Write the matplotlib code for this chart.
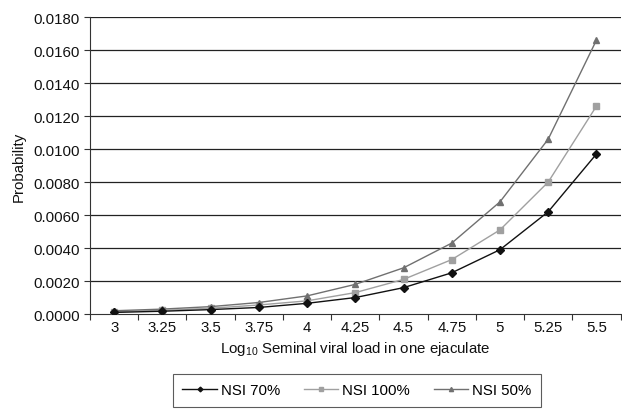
import matplotlib
matplotlib.use("Agg")
import matplotlib.pyplot as plt
import numpy as np

categories = ["3", "3.25", "3.5", "3.75", "4", "4.25", "4.5", "4.75", "5", "5.25", "5.5"]
nsi70 = [0.0001, 0.00017, 0.00027, 0.0004, 0.00065, 0.0010, 0.0016, 0.0025, 0.0039, 0.0062, 0.0097]
nsi100 = [0.00015, 0.00022, 0.00035, 0.00055, 0.0008, 0.0013, 0.0021, 0.0033, 0.0051, 0.0080, 0.0126]
nsi50 = [0.0002, 0.0003, 0.00045, 0.0007, 0.0011, 0.0018, 0.0028, 0.0043, 0.0068, 0.0106, 0.0166]
yticks = [0.0, 0.002, 0.004, 0.006, 0.008, 0.010, 0.012, 0.014, 0.016, 0.018]

plt.rcParams['font.family'] = ['Liberation Sans', 'DejaVu Sans']
plt.rcParams['mathtext.fontset'] = 'custom'
plt.rcParams['mathtext.rm'] = 'Liberation Sans'
plt.rcParams['mathtext.default'] = 'rm'
FS = 10.8
fig = plt.figure(figsize=(6.22, 4.14), dpi=100)
ax = fig.add_axes([0.1447, 0.239, 0.853, 0.7175])

x = np.arange(len(categories))
ax.plot(x, nsi70, color='#111111', marker='D', markersize=4, lw=1.0, label='NSI 70%', zorder=4)
ax.plot(x, nsi100, color='#a0a0a0', marker='s', markersize=4.5, lw=1.0, label='NSI 100%', zorder=3)
ax.plot(x, nsi50, color='#707070', marker='^', markersize=5, lw=1.0, label='NSI 50%', zorder=3)

ax.set_xlim(-0.5, len(categories) - 0.5)
ax.set_ylim(0, 0.018)
ax.set_yticks(yticks)
ax.set_yticklabels([f"{v:.4f}" for v in yticks])
for v in yticks[1:]:
    ax.axhline(v, color='#222222', lw=0.9, zorder=1)

ax.set_xticks(np.arange(-0.5, len(categories) - 0.4, 1.0))
ax.set_xticklabels([])
ax.set_xticks(x, minor=True)
ax.set_xticklabels(categories, minor=True)
ax.tick_params(axis='x', which='major', length=4, direction='out', color='#333333')
ax.tick_params(axis='x', which='minor', length=0, pad=4, labelsize=FS, labelcolor='#111111')
ax.tick_params(axis='y', length=4, direction='out', color='#333333', labelsize=FS, labelcolor='#111111')

for s in ['top', 'right']:
    ax.spines[s].set_visible(False)
for s in ['left', 'bottom']:
    ax.spines[s].set_color('#333333')

ax.set_xlabel("Log$_{10}$ Seminal viral load in one ejaculate", fontsize=FS, labelpad=4, color='#111111')
ax.set_ylabel("Probability", fontsize=FS, labelpad=5, color='#111111')

leg = ax.legend(loc='upper center', bbox_to_anchor=(0.503, -0.175), ncol=3, frameon=True,
                fancybox=False, edgecolor='#333333', fontsize=FS, handlelength=2.3,
                handletextpad=0.25, columnspacing=1.6, borderpad=0.65, markerscale=0.6)
leg.get_frame().set_linewidth(0.8)

fig.savefig("out.png", dpi=100)
